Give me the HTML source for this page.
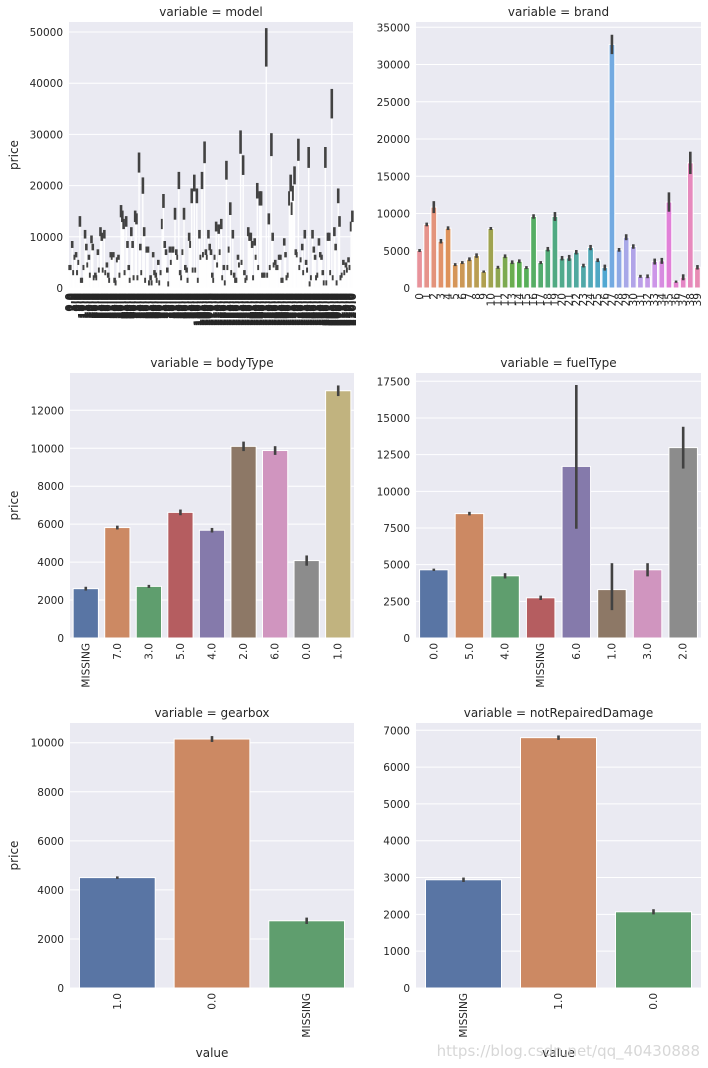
<!DOCTYPE html>
<html><head><meta charset="utf-8"><style>
body{margin:0;background:#fff;}
svg{display:block;font-family:"DejaVu Sans","Liberation Sans",sans-serif;}
</style></head><body>
<svg id="c" width="708" height="1068" viewBox="0 0 708 1068"></svg>
<script>
// ---- data ----
const modelValues=[4,4,8.5,3,6,6.5,3,5,13,1.5,1.5,4,10.5,8,4.5,6,2.5,9.5,8,2,2.5,2,7,3.5,11,10,3.5,10.5,3,4.5,2.5,1.5,6.5,6,6.5,1.5,1,5.5,6,2.5,15,14,12.5,3,13,8.5,4,1.5,11,8.5,2,14,13.5,2,24.5,8,3,20,11,1.5,7.5,7.5,1,2,1,6.5,3,2.5,1.5,5,1,3,12.5,17,8.5,7,3.5,0.8,7.5,5,7.5,7.5,14.5,7,6,21,3,2,7,14.5,4,3.5,1.5,10,8.5,18,3.5,20.5,3.5,18,1.5,10.5,6,21,6.5,26.5,7,6,10.5,8,7,2.5,1.5,6,12,4.5,11.5,7,12.5,2,4,1,23,4,7.5,15.5,3,10.5,2.5,1.5,1.5,6,4.5,28.5,5,24,3,1.5,2,11,10,10,8.5,2,9,6,19,4,17.5,17.5,2.5,2.5,2.5,47,2.5,13.5,4,28,10,4.5,5,4,4,6,6,1.5,1.5,9,6.5,2,2.5,17.5,20.5,15.5,18.5,22,7,6.5,27,4,5.5,8,3,10.5,5,3.5,25.5,0.8,2,10.5,7.5,6,2,2.5,9,6.5,6,3,1,25.5,1,10,10,3,36,2,11,8,1,18,13,2,2.5,5,3,4.5,3.5,5.5,4,12,14];
const brandValues=[5030,8530,10860,6280,8030,3140,3410,3860,4350,2200,7990,2780,4260,3460,3590,2740,9600,3410,5210,9600,4000,4040,4800,3010,5430,3730,2740,32700,5120,6820,5570,1570,1570,3550,3640,11540,850,1440,16800,2780];
const brandErr=[200,250,800,300,250,200,200,250,300,150,200,200,250,250,250,200,300,200,300,600,300,400,300,250,350,250,400,1300,250,400,300,200,250,400,400,1300,150,400,1500,300];
const bodyCats=["MISSING","7.0","3.0","5.0","4.0","2.0","6.0","0.0","1.0"];
const bodyValues=[2600,5820,2720,6620,5680,10100,9880,4080,13030];
const bodyLo=[2500,5720,2640,6470,5560,9850,9650,3810,12750];
const bodyHi=[2700,5920,2800,6770,5800,10350,10110,4350,13310];
const fuelCats=["0.0","5.0","4.0","MISSING","6.0","1.0","3.0","2.0"];
const fuelValues=[4650,8480,4240,2740,11700,3300,4650,12980];
const fuelLo=[4570,8360,4060,2590,7450,1900,4200,11550];
const fuelHi=[4730,8600,4420,2890,17250,5100,5100,14400];
const gearCats=["1.0","0.0","MISSING"];
const gearValues=[4500,10150,2740];
const gearLo=[4450,10030,2610];
const gearHi=[4550,10270,2870];
const dmgCats=["MISSING","1.0","0.0"];
const dmgValues=[2940,6800,2070];
const dmgLo=[2880,6740,2000];
const dmgHi=[3000,6860,2140];
// ---- drawing ----
const svg=document.getElementById('c');
const NS='http://www.w3.org/2000/svg';
function mk(tag,attrs,parent){const e=document.createElementNS(NS,tag);for(const k in attrs)e.setAttribute(k,attrs[k]);(parent||svg).appendChild(e);return e;}
const deep=["#5975a4","#cc8963","#5f9e6e","#b55d60","#857aab","#8d7866","#d095bf","#8c8c8c","#c1b37f"];
const stops=[[0,[232,147,155]],[4,[222,146,90]],[9,[176,160,80]],[14,[90,176,80]],[19,[80,170,130]],[23,[80,168,168]],[26,[80,168,210]],[27,[115,170,225]],[29,[168,168,232]],[33,[205,150,232]],[35,[225,128,216]],[39,[232,140,180]]];
function husl(i){for(let k=0;k<stops.length-1;k++){const a=stops[k],b=stops[k+1];if(i>=a[0]&&i<=b[0]){const t=(i-a[0])/(b[0]-a[0]||1);const c=a[1].map((v,j)=>Math.round(v+(b[1][j]-v)*t));return 'rgb('+c.join(',')+')';}}return 'rgb(232,140,180)';}
function panel(o){
  const g=mk('g',{});
  
  
  const bg=mk('rect',{x:o.x0,y:o.y0,width:o.x1-o.x0,height:o.y1-o.y0,fill:'#eaeaf2'},g);
  
  
  const k=(o.y1-o.yTopPix)/o.tickMax;
  const Y=v=>o.y1-v*k;
  for(let t=0;t<=o.tickMax+1e-6;t+=o.tickStep){
    const gl=mk('line',{x1:o.x0,x2:o.x1,y1:Y(t),y2:Y(t),stroke:'#fff','stroke-width':1},g);
    
    
    const tl=mk('text',{x:o.x0-6,y:Y(t)+4,'text-anchor':'end','font-size':10.5,fill:'#262626'},g);
    
    
    tl.textContent=String(t);
  }
  const n=o.values.length,step=(o.x1-o.x0)/n,bw=step*0.8;
  for(let i=0;i<n;i++){
    const cx=o.x0+step*(i+0.5),v=o.values[i];
    const r=mk('rect',{x:cx-bw/2,y:Y(v),width:bw,height:Y(0)-Y(v),fill:o.color(i),stroke:'#fff','stroke-width':o.edge},g);
    
    
    const e=mk('line',{x1:cx,x2:cx,y1:Y(o.lo[i]),y2:Y(o.hi[i]),stroke:'#424242','stroke-width':o.ew},g);
    
    
    const lx=cx+3.5,ly=o.y1+5;
    const tl=mk('text',{x:lx,y:ly,transform:'rotate(-90 '+lx+' '+ly+')','text-anchor':'end','font-size':o.lfs,'font-weight':o.lfw||'normal',fill:'#262626'},g);
    
    
    tl.textContent=o.cats[i];
  }
  const tt=mk('text',{x:(o.x0+o.x1)/2,y:o.y0-6,'text-anchor':'middle','font-size':12,fill:'#262626'},g);
  
  
  tt.textContent=o.title;
  if(o.ylabel){const yl=mk('text',{x:18,y:(o.y0+o.y1)/2,transform:'rotate(-90 18 '+(o.y0+o.y1)/2+')','text-anchor':'middle','font-size':12,fill:'#262626'},g);
    
    
    yl.textContent='price';}
  if(o.xlabel){const xl=mk('text',{x:(o.x0+o.x1)/2,y:1057,'text-anchor':'middle','font-size':12,fill:'#262626'},g);
    
    
    xl.textContent='value';}
}
const mv=modelValues.map(v=>v*1000);
panel({name:'model-panel',title:'variable = model',x0:69,x1:353,y0:22,y1:288,yTopPix:32,tickMax:50000,tickStep:10000,
  values:mv,cats:mv.map((v,i)=>i+'.0'),lo:mv.map(v=>v-Math.max(500,v*0.08)),hi:mv.map(v=>v+Math.max(500,v*0.08)),
  color:()=>'#fff',edge:0.3,ew:2.6,lfs:10.5,lfw:'bold'});
panel({name:'brand-panel',title:'variable = brand',x0:416,x1:701,y0:22,y1:288,yTopPix:27.3,tickMax:35000,tickStep:5000,
  values:brandValues,cats:brandValues.map((v,i)=>String(i)),lo:brandValues.map((v,i)=>v-brandErr[i]),hi:brandValues.map((v,i)=>v+brandErr[i]),
  color:husl,edge:1,ew:2.6,lfs:10.5});
panel({name:'bodytype-panel',title:'variable = bodyType',x0:70,x1:354,y0:373,y1:638,yTopPix:410.3,tickMax:12000,tickStep:2000,
  values:bodyValues,cats:bodyCats,lo:bodyLo,hi:bodyHi,color:i=>deep[i],edge:1,ew:2.6,lfs:10.5,ylabel:true});
panel({name:'fueltype-panel',title:'variable = fuelType',x0:416,x1:701,y0:373,y1:638,yTopPix:381.3,tickMax:17500,tickStep:2500,
  values:fuelValues,cats:fuelCats,lo:fuelLo,hi:fuelHi,color:i=>deep[i],edge:1,ew:2.6,lfs:10.5});
panel({name:'gearbox-panel',title:'variable = gearbox',x0:70,x1:354,y0:723,y1:988,yTopPix:742.7,tickMax:10000,tickStep:2000,
  values:gearValues,cats:gearCats,lo:gearLo,hi:gearHi,color:i=>deep[i],edge:1,ew:2.6,lfs:10.5,ylabel:true,xlabel:true});
panel({name:'notrepaireddamage-panel',title:'variable = notRepairedDamage',x0:416,x1:701,y0:723,y1:988,yTopPix:730.3,tickMax:7000,tickStep:1000,
  values:dmgValues,cats:dmgCats,lo:dmgLo,hi:dmgHi,color:i=>deep[i],edge:1,ew:2.6,lfs:10.5,xlabel:true});
// model y-label placed after so it's on top
const ylm=mk('text',{x:18,y:155,transform:'rotate(-90 18 155)','text-anchor':'middle','font-size':12,fill:'#262626'});


ylm.textContent='price';
const wm=mk('text',{x:700,y:1056,'text-anchor':'end','font-size':15,fill:'#d0d0d0','fill-opacity':0.85});


wm.textContent='https://blog.csdn.net/qq_40430888';
</script>
</body></html>
